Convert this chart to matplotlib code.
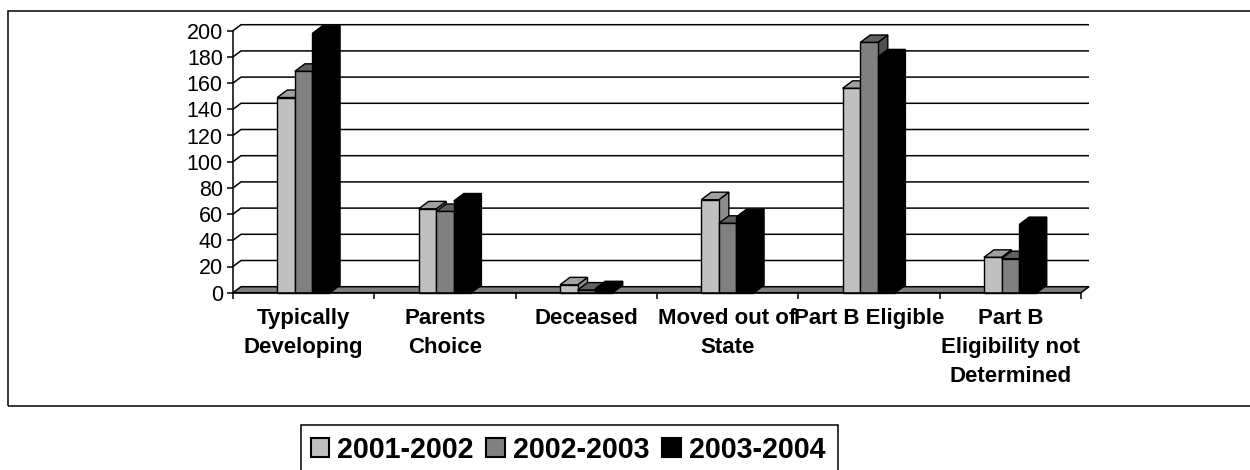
import matplotlib
matplotlib.use("Agg")
import matplotlib.pyplot as plt
from matplotlib.patches import Patch, Polygon, Rectangle

categories = ["Typically\nDeveloping", "Parents\nChoice", "Deceased", "Moved out of\nState",
              "Part B Eligible", "Part B\nEligibility not\nDetermined"]
years = ["2001-2002", "2002-2003", "2003-2004"]
vals_2001 = [149, 64, 6, 71, 156, 27]
vals_2002 = [169, 62, 2, 53, 191, 26]
vals_2003 = [198, 70, 3, 58, 180, 52]
y_ticks = list(range(0, 201, 20))

W, H = 1250, 470
front = ["#C0C0C0", "#808080", "#000000"]
top = ["#A0A0A0", "#606060", "#000000"]
side = ["#8C8C8C", "#505050", "#000000"]

plt.rcParams["font.family"] = ["Liberation Sans", "DejaVu Sans"]
fig = plt.figure(figsize=(W / 100, H / 100), dpi=100)
ax = fig.add_axes([233 / W, 1 - 292.7 / H, 848 / W, 262 / H])
ax.set_xlim(0, 6)
ax.set_ylim(0, 200)
ax.patch.set_visible(False)

# depth of the fake 3d, in data units
wall_dx = 8 / 141.3
wall_dy = 6 / 1.31
bar_dx = 10 / 141.3
bar_dy = 7.5 / 1.31
bar_w = 17.6 / 141.3
lw = 1.1

for y in y_ticks[1:]:
    ax.plot([0, wall_dx, 6 + wall_dx], [y, y + wall_dy, y + wall_dy], color="black", lw=lw,
            clip_on=False, zorder=1, solid_capstyle="butt")

# floor
ax.add_patch(Polygon([(0, 0), (wall_dx, wall_dy), (6 + wall_dx, wall_dy), (6, 0)], closed=True,
                     fc="#808080", ec="black", lw=1.1, clip_on=False, zorder=2))

for i, series in enumerate([vals_2001, vals_2002, vals_2003]):
    for j, v in enumerate(series):
        x0 = j + 0.5 + (i - 1.5) * bar_w
        x1 = x0 + bar_w
        z = 3 + i
        ax.add_patch(Polygon([(x1, 0), (x1 + bar_dx, bar_dy), (x1 + bar_dx, v + bar_dy), (x1, v)],
                             closed=True, fc=side[i], ec="black", lw=1.0, clip_on=False, zorder=z))
        ax.add_patch(Polygon([(x0, v), (x0 + bar_dx, v + bar_dy), (x1 + bar_dx, v + bar_dy), (x1, v)],
                             closed=True, fc=top[i], ec="black", lw=1.0, clip_on=False, zorder=z))
        ax.add_patch(Rectangle((x0, 0), bar_w, v, fc=front[i], ec="black", lw=1.0,
                               clip_on=False, zorder=z))

for s in ["top", "right"]:
    ax.spines[s].set_visible(False)
for s in ["left", "bottom"]:
    ax.spines[s].set_linewidth(lw)
    ax.spines[s].set_zorder(8)
ax.set_yticks(y_ticks)
ax.set_xticks(range(7))
ax.set_xticklabels([])
ax.tick_params(axis="y", labelsize=15.5, length=4.3, width=1.1, pad=3)
ax.tick_params(axis="x", length=4.3, width=1.1, direction="out")

for j, name in enumerate(categories):
    ax.annotate(name, (j + 0.5, 0), xytext=(0, -11), textcoords="offset points", ha="center", va="top",
                fontsize=16, fontweight="bold", linespacing=1.5, annotation_clip=False)

# outer chart frame, runs off the right edge
fig.add_artist(Rectangle((8 / W, 1 - 406 / H), 1300 / W, 395.5 / H, transform=fig.transFigure,
                         fc="none", ec="black", lw=1.1))

# legend box runs off the bottom of the picture
fig.add_artist(Rectangle((300.5 / W, 1 - 480 / H), 537.5 / W, 55 / H, transform=fig.transFigure,
                         fc="white", ec="black", lw=1.1))
handles = [Patch(fc=front[i], ec="black", lw=1.5, label=years[i]) for i in range(3)]
fig.legend(handles=handles, loc="upper left", bbox_to_anchor=(310.5 / W, 1 - 435.5 / H), ncol=3,
           prop={"size": 20.6, "weight": "bold"}, frameon=False, handlelength=0.65, handleheight=0.65,
           handletextpad=0.26, columnspacing=0.47, borderpad=0, borderaxespad=0)

fig.savefig("out.png", dpi=100)
